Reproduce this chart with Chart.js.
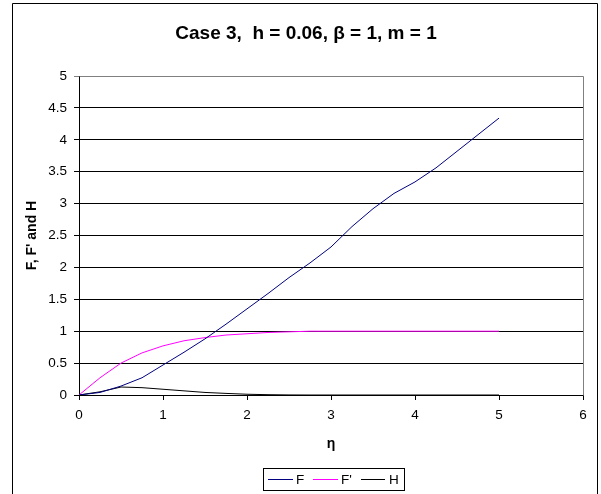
<!DOCTYPE html>
<html>
<head>
<meta charset="utf-8">
<script src="https://cdn.jsdelivr.net/npm/chart.js@4/dist/chart.umd.min.js"></script>
<style>
  html, body { margin: 0; padding: 0; background: #fff; }
  #wrap { position: relative; width: 601px; height: 494px; }
</style>
</head>
<body>
<div id="wrap"><canvas id="c" width="601" height="494"></canvas></div>
<script>
// ---- data ----
const eta = [0, 0.25, 0.5, 0.75, 1, 1.25, 1.5, 1.75, 2, 2.25, 2.5, 2.75, 3, 3.25, 3.5, 3.75, 4, 4.25, 4.5, 4.75, 5];
const F   = [0, 0.04, 0.14, 0.27, 0.47, 0.67, 0.88, 1.11, 1.35, 1.59, 1.84, 2.07, 2.32, 2.64, 2.92, 3.16, 3.34, 3.56, 3.82, 4.08, 4.34];
const Fp  = [0, 0.27, 0.50, 0.66, 0.77, 0.85, 0.90, 0.94, 0.96, 0.98, 0.99, 1.0, 1.0, 1.0, 1.0, 1.0, 1.0, 1.0, 1.0, 1.0, 1.0];
const H   = [0, 0.05, 0.125, 0.115, 0.09, 0.065, 0.04, 0.025, 0.012, 0.005, 0.001, 0, 0, 0, 0, 0, 0, 0, 0, 0, 0];
const seriesNames = ["F", "F'", "H"];
const seriesColors = ["#000080", "#FF00FF", "#000000"];
const titleText = "Case 3,  h = 0.06, \u03B2 = 1, m = 1";
const xTitle = "\u03B7";
const yTitle = "F, F' and H";

const FONT = "'Liberation Sans', Arial, sans-serif";
Chart.defaults.color = '#000';
Chart.defaults.font.family = FONT;

const toPts = ys => eta.map((x, i) => ({ x: x, y: ys[i] }));

const framePlugin = {
  id: 'frame',
  afterDraw(chart) {
    const ctx = chart.ctx;
    const a = chart.chartArea;
    ctx.save();
    // chart title
    ctx.fillStyle = '#000';
    ctx.font = "bold 19px " + FONT;
    ctx.textAlign = 'center';
    ctx.textBaseline = 'alphabetic';
    ctx.fillText(titleText, 306, 38.5);
    // plot area right & top border (gray)
    ctx.strokeStyle = '#808080';
    ctx.lineWidth = 1;
    ctx.beginPath();
    ctx.moveTo(Math.round(a.left) + 0.5, Math.round(a.top) + 0.5);
    ctx.lineTo(Math.round(a.right) + 0.5, Math.round(a.top) + 0.5);
    ctx.lineTo(Math.round(a.right) + 0.5, Math.round(a.bottom) + 0.5);
    ctx.stroke();
    // outer chart frame
    ctx.strokeStyle = '#000';
    ctx.beginPath();
    ctx.moveTo(12.5, 500);
    ctx.lineTo(12.5, 3.5);
    ctx.lineTo(597.5, 3.5);
    ctx.lineTo(597.5, 500);
    ctx.stroke();
    // legend box
    const bx = 263.5, by = 468.5, bw = 141, bh = 22;
    ctx.fillStyle = '#fff';
    ctx.fillRect(bx, by, bw, bh);
    ctx.strokeRect(bx, by, bw, bh);
    const items = [
      { x0: 268, x1: 293, tx: 296 },
      { x0: 313, x1: 338, tx: 341 },
      { x0: 361, x1: 385, tx: 389 }
    ];
    const cy = 479.5;
    ctx.font = "13.5px " + FONT;
    ctx.textBaseline = 'middle';
    ctx.textAlign = 'left';
    items.forEach((it, i) => {
      ctx.strokeStyle = seriesColors[i];
      ctx.beginPath();
      ctx.moveTo(it.x0, cy);
      ctx.lineTo(it.x1, cy);
      ctx.stroke();
      ctx.fillStyle = '#000';
      ctx.fillText(seriesNames[i], it.tx, cy + 0.5);
    });
    ctx.restore();
  }
};

new Chart(document.getElementById('c'), {
  type: 'line',
  data: {
    datasets: [
      { label: seriesNames[0], data: toPts(F),  borderColor: seriesColors[0], borderWidth: 1, pointRadius: 0, tension: 0, fill: false },
      { label: seriesNames[1], data: toPts(Fp), borderColor: seriesColors[1], borderWidth: 1, pointRadius: 0, tension: 0, fill: false },
      { label: seriesNames[2], data: toPts(H),  borderColor: seriesColors[2], borderWidth: 1, pointRadius: 0, tension: 0, fill: false }
    ]
  },
  options: {
    responsive: false,
    animation: false,
    devicePixelRatio: 1,
    layout: { padding: { left: 14, right: 18, top: 76, bottom: 38 } },
    plugins: {
      legend: { display: false },
      tooltip: { enabled: false },
      title: { display: false }
    },
    scales: {
      x: {
        type: 'linear',
        min: 0, max: 6,
        ticks: { stepSize: 1, font: { size: 13.5 }, padding: 7, color: '#000', maxRotation: 0 },
        grid: { drawOnChartArea: false, drawTicks: true, tickLength: 5, color: '#000' },
        border: { color: '#000', width: 1 },
        title: { display: true, text: xTitle, font: { size: 14, weight: 'bold' }, color: '#000', padding: { top: 0, bottom: 3 } },
        afterFit(s) { s.height = 61; }
      },
      y: {
        type: 'linear',
        min: 0, max: 5,
        ticks: { stepSize: 0.5, font: { size: 13.5 }, padding: 7, color: '#000',
                 callback: v => String(Math.round(v * 10) / 10) },
        grid: {
          drawOnChartArea: true, drawTicks: true, tickLength: 5,
          color: ctx => (ctx.tick && ctx.tick.value === 5) ? '#808080' : '#000'
        },
        border: { color: '#000', width: 1 },
        title: { display: true, text: yTitle, font: { size: 14, weight: 'bold' }, color: '#000', padding: { top: 10, bottom: 0 } },
        afterFit(s) { s.width = 65; }
      }
    }
  },
  plugins: [framePlugin]
});
</script>
</body>
</html>
